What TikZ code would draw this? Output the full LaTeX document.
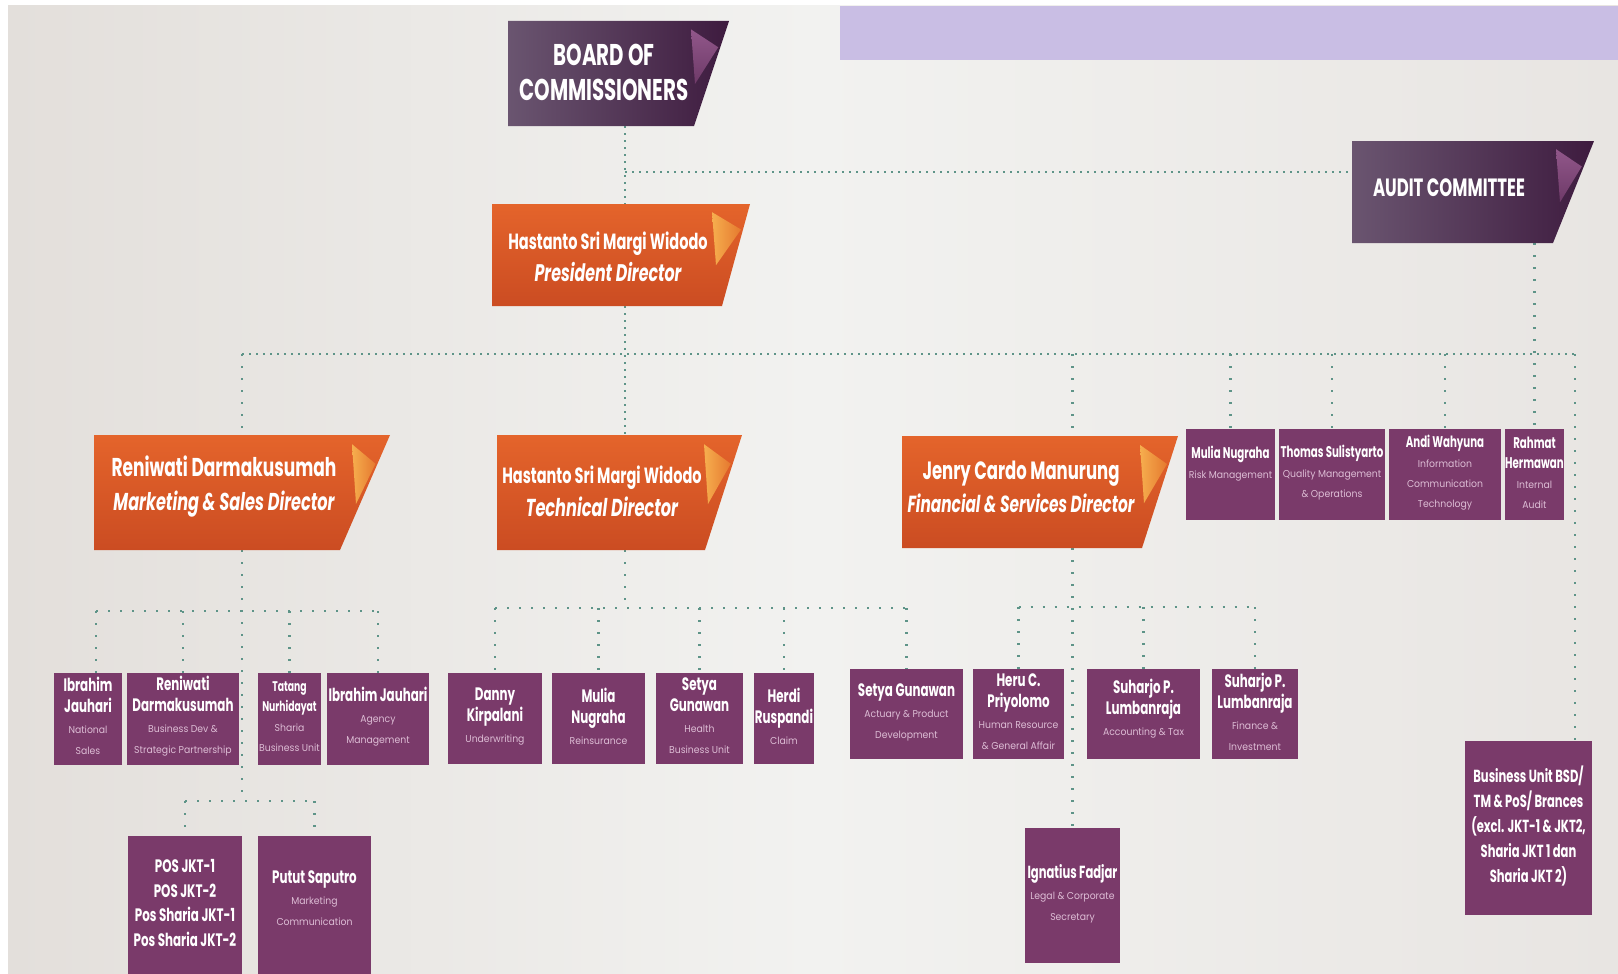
\documentclass[tikz,border=0pt]{standalone}
\usepackage{fontspec}
\setmainfont{Poppins}
\newfontfamily\gf[FakeStretch=0.66]{Poppins}
\newfontfamily\lf[FakeStretch=0.93]{Poppins}
\usetikzlibrary{fit}
\pgfdeclarelayer{back}
\pgfsetlayers{back,main}
\definecolor{bgL}{HTML}{E3DFDB}
\definecolor{bgM}{HTML}{F2F2F0}
\definecolor{bgR}{HTML}{E8E5E2}
\definecolor{lav}{HTML}{C9BEE4}
\definecolor{dotc}{HTML}{5E9488}
\definecolor{plum}{HTML}{7A3A6A}
\definecolor{plumD}{HTML}{3E1B3F}
\definecolor{plumL}{HTML}{6A5570}
\definecolor{plumF}{HTML}{91578A}
\definecolor{plumF2}{HTML}{6E3A68}
\definecolor{orgT}{HTML}{E4642B}
\definecolor{orgB}{HTML}{CB4C22}
\definecolor{orgF}{HTML}{F6AE4E}
\definecolor{orgF2}{HTML}{E5792F}
\definecolor{subt}{HTML}{DDBDD5}
\newcommand\stl[1]{{\lf\mdseries\color{subt}\fontsize{10}{12}\selectfont #1}}
\newcommand\ttl[2]{{\fontsize{#1}{#1}\selectfont\itshape #2}}
\newcommand\mkfold[8]{%
  \node[fit={(#2,#3) (#4,#5)}, inner sep=0pt] (#1) {};
  \shade[#7] (#2,#3) -- (#4,#3) -- (#6,#5) -- (#2,#5) -- cycle;
  \shade[#8] ({#4-38},{#3+0.08*(#5-#3)}) -- ({#4-2-0.25*(#4-#6)},{#3+0.25*(#5-#3)}) -- ({#4-34},{#3+0.6*(#5-#3)}) -- cycle;
}
\tikzset{
  orgbody/.style={top color=orgT, bottom color=orgB},
  orgfold/.style={left color=orgF, right color=orgF2},
  purbody/.style={left color=plumL, right color=plumD},
  purfold/.style={top color=plumF, bottom color=plumF2},
  dtext/.style={text=white, align=center, inner sep=0pt},
  pbox/.style={fill=plum, inner sep=0pt},
  ptext/.style={text=white, align=center, inner sep=0pt, yshift=2pt, font=\gf\bfseries\fontsize{18}{21}\selectfont},
  ptexts/.style={ptext, font=\gf\bfseries\fontsize{15.5}{20}\selectfont},
  dl/.style={draw=dotc, line width=2.2pt, dash pattern=on 1.6pt off 5.4pt},
  dlB/.style={draw=dotc, line width=2.6pt, dash pattern=on 2pt off 10pt},
}
\begin{document}
\begin{tikzpicture}[x=1pt,y=-1pt]
\useasboundingbox (0,0) rectangle (1618,974);
% ---- director level boxes
\mkfold{board}{508}{21}{729}{126}{694}{purbody}{purfold}
\node[dtext, font=\gf\bfseries\fontsize{30}{35}\selectfont] (boardT) at (604,72) {BOARD OF\\COMMISSIONERS};
\mkfold{pres}{492}{204}{750}{306}{722}{orgbody}{orgfold}
\node[dtext, font=\gf\bfseries\fontsize{22}{32}\selectfont] (presT) at (608,257) {Hastanto Sri Margi Widodo\\\ttl{24}{President Director}};
\mkfold{audit}{1352}{141}{1594}{243}{1553}{purbody}{purfold}
\node[dtext, font=\gf\bfseries\fontsize{25}{28}\selectfont] (auditT) at (1449,188) {AUDIT COMMITTEE};
\mkfold{mkt}{94}{435}{390}{550}{340}{orgbody}{orgfold}
\node[dtext, font=\gf\bfseries\fontsize{25.8}{34}\selectfont] (mktT) at (224,487) {Reniwati Darmakusumah\\\ttl{24.4}{Marketing \& Sales Director}};
\mkfold{tech}{497}{435}{742}{550}{705}{orgbody}{orgfold}
\node[dtext, font=\gf\bfseries\fontsize{22}{33}\selectfont] (techT) at (602,491) {Hastanto Sri Margi Widodo\\\ttl{24.5}{Technical Director}};
\mkfold{fin}{902}{436}{1178}{548}{1142}{orgbody}{orgfold}
\node[dtext, font=\gf\bfseries\fontsize{25}{33}\selectfont] (finT) at (1021,487) {Jenry Cardo Manurung\\\ttl{23.3}{Financial \& Services Director}};
% ---- units reporting to the board level
\node[pbox, fit={(1186,429) (1275,520)}, label={[ptexts, yshift=9pt]center:{Mulia Nugraha\\\stl{Risk Management}}}] (risk) {};
\node[pbox, fit={(1279,429) (1385,520)}, label={[ptexts]center:{Thomas Sulistyarto\\\stl{Quality Management}\\\stl{\& Operations}}}] (qual) {};
\node[pbox, fit={(1389,429) (1501,520)}, label={[ptexts]center:{Andi Wahyuna\\\stl{Information}\\\stl{Communication}\\\stl{Technology}}}] (ict) {};
\node[pbox, fit={(1505,429) (1564,520)}, label={[ptexts]center:{Rahmat\\Hermawan\\\stl{Internal}\\\stl{Audit}}}] (ia) {};
% ---- marketing
\node[pbox, fit={(54,673) (122,765)}, label={[ptext, yshift=1pt]center:{Ibrahim\\Jauhari\\\stl{National}\\\stl{Sales}}}] (nat) {};
\node[pbox, fit={(127,673) (239,765)}, label={[ptext, yshift=1pt]center:{Reniwati\\Darmakusumah\\\stl{Business Dev \&}\\\stl{Strategic Partnership}}}] (bizdev) {};
\node[pbox, fit={(258,673) (321,765)}, label={[ptext, yshift=0pt, font=\gf\bfseries\fontsize{14}{20}\selectfont]center:{Tatang\\Nurhidayat\\\stl{Sharia}\\\stl{Business Unit}}}] (sharia) {};
\node[pbox, fit={(327,673) (429,765)}, label={[ptext]center:{Ibrahim Jauhari\\\stl{Agency}\\\stl{Management}}}] (agency) {};
\node[pbox, fit={(128,836) (242,974)}, label={[ptext, yshift=0pt, font=\gf\bfseries\fontsize{18}{24.5}\selectfont]center:{POS JKT-1\\POS JKT-2\\Pos Sharia JKT-1\\Pos Sharia JKT-2}}] (pos) {};
\node[pbox, fit={(258,836) (371,974)}, label={[ptext, yshift=5pt]center:{Putut Saputro\\\stl{Marketing}\\\stl{Communication}}}] (putut) {};
% ---- technical
\node[pbox, fit={(448,673) (542,764)}, label={[ptext]center:{Danny\\Kirpalani\\\stl{Underwriting}}}] (uw) {};
\node[pbox, fit={(552,673) (645,764)}, label={[ptext]center:{Mulia\\Nugraha\\\stl{Reinsurance}}}] (reins) {};
\node[pbox, fit={(656,673) (743,764)}, label={[ptext, yshift=1pt]center:{Setya\\Gunawan\\\stl{Health}\\\stl{Business Unit}}}] (health) {};
\node[pbox, fit={(754,673) (814,764)}, label={[ptext]center:{Herdi\\Ruspandi\\\stl{Claim}}}] (claim) {};
\node[pbox, fit={(850,669) (963,759)}, label={[ptext]center:{Setya Gunawan\\\stl{Actuary \& Product}\\\stl{Development}}}] (actu) {};
% ---- finance
\node[pbox, fit={(973,669) (1064,759)}, label={[ptext, yshift=0pt]center:{Heru C.\\Priyolomo\\\stl{Human Resource}\\\stl{\& General Affair}}}] (hr) {};
\node[pbox, fit={(1087,669) (1200,759)}, label={[ptext, yshift=3pt]center:{Suharjo P.\\Lumbanraja\\\stl{Accounting \& Tax}}}] (acct) {};
\node[pbox, fit={(1212,669) (1298,759)}, label={[ptext, yshift=0pt]center:{Suharjo P.\\Lumbanraja\\\stl{Finance \&}\\\stl{Investment}}}] (finv) {};
\node[pbox, fit={(1025,828) (1120,963)}, label={[ptext, yshift=0pt, font=\gf\bfseries\fontsize{17.5}{21}\selectfont]center:{Ignatius Fadjar\\\stl{Legal \& Corporate}\\\stl{Secretary}}}] (legal) {};
\node[pbox, fit={(1465,741) (1592,915)}, label={[ptext, yshift=0pt, font=\gf\bfseries\fontsize{17.5}{25}\selectfont]center:{Business Unit BSD/\\TM \& PoS/ Brances\\(excl. JKT-1 \& JKT2,\\Sharia JKT 1 dan\\Sharia JKT 2)}}] (bsd) {};
% ---- background and connectors
\begin{pgfonlayer}{back}
\fill[white] (0,0) rectangle (1618,974);
\shade[left color=bgL, right color=bgR, middle color=bgM] (8,6) rectangle (1618,974);
\fill[lav] (840,6) rectangle (1618,60);
\coordinate (tk) at (625,0);
\coordinate (ja) at (625,172);
\coordinate (by) at (0,354);
\coordinate (bR) at (1575,0);
\coordinate (m2) at (0,611);
\coordinate (m3) at (0,801);
\coordinate (t2) at (0,608);
\coordinate (f2) at (0,607);
\coordinate (xn) at (96,0);
\draw[dl] (board.south -| tk) -- (pres.north -| tk);
\draw[dl] (ja) -- (ja -| audit.west);
\draw[dl] (pres.south -| tk) -- (tech.north -| tk);
\draw[dl] (by -| mkt.north) -- (by -| bR);
\draw[dlB] (by -| mkt.north) -- (mkt.north);
\draw[dlB] (by -| legal.north) -- (fin.north -| legal.north);
\foreach \n in {risk,qual,ict} \draw[dlB] (by -| \n.north) -- (\n.north);
\draw[dlB] (audit.south -| ia.north) -- (ia.north);
\draw[dlB] (by -| bR) -- (bR |- bsd.north);
% marketing
\draw[dlB] (mkt.south) -- (mkt.south |- m3);
\draw[dlB] (m2 -| xn) -- (m2 -| agency.north);
\draw[dlB] (m2 -| xn) -- (nat.north -| xn);
\foreach \n in {bizdev,sharia,agency} \draw[dlB] (m2 -| \n.north) -- (\n.north);
\draw[dlB] (m3 -| pos.north) -- (m3 -| putut.north);
\foreach \n in {pos,putut} \draw[dlB] (m3 -| \n.north) -- (\n.north);
% technical
\draw[dlB] (tech.south -| tk) -- (t2 -| tk);
\draw[dlB] (t2 -| uw.north) -- (t2 -| actu.north);
\foreach \n in {uw,reins,health,claim,actu} \draw[dlB] (t2 -| \n.north) -- (\n.north);
% finance
\draw[dlB] (fin.south -| legal.north) -- (legal.north);
\draw[dlB] (f2 -| hr.north) -- (f2 -| finv.north);
\foreach \n in {hr,acct,finv} \draw[dlB] (f2 -| \n.north) -- (\n.north);
\end{pgfonlayer}
\end{tikzpicture}
\end{document}
